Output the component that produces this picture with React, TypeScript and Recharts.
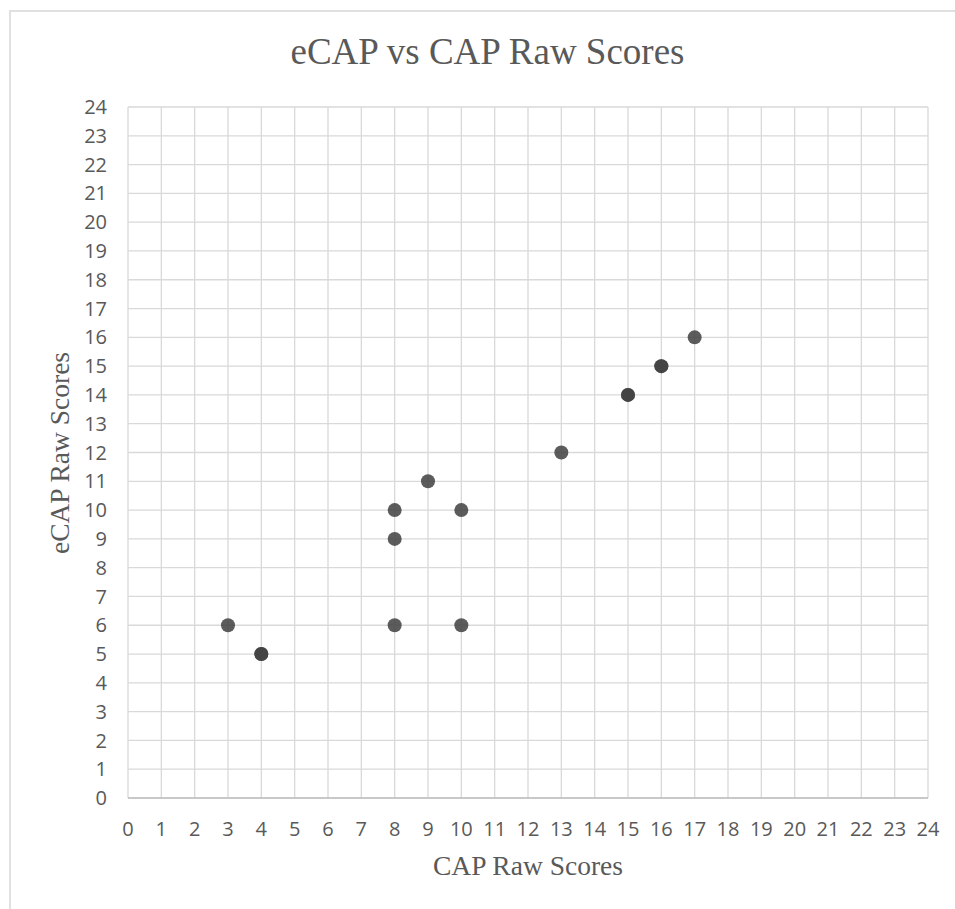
import { ScatterChart, Scatter, XAxis, YAxis, CartesianGrid } from "recharts";

// CAP raw score (x) vs eCAP raw score (y); repeated pairs are listed twice
const capScores = [3, 4, 4, 8, 10, 8, 8, 9, 10, 13, 15, 15, 16, 16, 17];
const ecapScores = [6, 5, 5, 6, 6, 9, 10, 11, 10, 12, 14, 14, 15, 15, 16];

const axisTicks = [
  0, 1, 2, 3, 4, 5, 6, 7, 8, 9, 10, 11, 12, 13, 14, 15, 16, 17, 18, 19, 20, 21, 22, 23, 24,
];

const TITLE = "eCAP vs CAP Raw Scores";
const X_TITLE = "CAP Raw Scores";
const Y_TITLE = "eCAP Raw Scores";

const points = capScores.map((x, i) => ({ x, y: ecapScores[i] }));

const tickStyle = { fontSize: 20, fill: "#595959", fontFamily: "'Open Sans', sans-serif" };
const serif = "'Liberation Serif', 'Times New Roman', serif";

function Dot(props: any) {
  const { cx, cy } = props;
  return <circle cx={cx} cy={cy} r={7} fill="#404040" fillOpacity={0.85} />;
}

export default function App() {
  return (
    <div
      style={{
        position: "fixed",
        left: 0,
        top: 0,
        width: 955,
        height: 909,
        overflow: "hidden",
        background: "#fff",
      }}
    >
      <div
        style={{
          position: "absolute",
          left: 9,
          top: 10,
          width: 980,
          height: 940,
          border: "2px solid #e0e0e0",
        }}
      />
      <div
        style={{
          position: "absolute",
          left: 0,
          width: 975,
          top: 27,
          textAlign: "center",
          fontFamily: serif,
          fontSize: 37,
          color: "#595959",
          lineHeight: "50px",
        }}
      >
        {TITLE}
      </div>
      <div style={{ position: "absolute", left: 0, top: 0 }}>
        <ScatterChart
          width={955}
          height={909}
          margin={{ top: 107, right: 27, bottom: 51, left: 68 }}
        >
          <CartesianGrid stroke="#d9d9d9" strokeWidth={1.3} />
          <XAxis
            type="number"
            dataKey="x"
            domain={[0, 24]}
            ticks={axisTicks}
            interval={0}
            height={60}
            tickSize={0}
            tickMargin={24}
            tickLine={false}
            axisLine={{ stroke: "#bfbfbf", strokeWidth: 1.5 }}
            tick={tickStyle}
          />
          <YAxis
            type="number"
            dataKey="y"
            domain={[0, 24]}
            ticks={axisTicks}
            interval={0}
            width={60}
            tickSize={0}
            tickMargin={21}
            tickLine={false}
            axisLine={false}
            tick={tickStyle}
          />
          <Scatter data={points} shape={<Dot />} isAnimationActive={false} />
        </ScatterChart>
      </div>
      <div
        style={{
          position: "absolute",
          left: 0,
          width: 1056,
          top: 851,
          textAlign: "center",
          fontFamily: serif,
          fontSize: 27.5,
          color: "#595959",
          lineHeight: "30px",
        }}
      >
        {X_TITLE}
      </div>
      <div
        style={{
          position: "absolute",
          left: 60,
          top: 453,
          transform: "translate(-50%, -50%) rotate(-90deg)",
          whiteSpace: "nowrap",
          fontFamily: serif,
          fontSize: 27.5,
          color: "#595959",
          lineHeight: "30px",
        }}
      >
        {Y_TITLE}
      </div>
    </div>
  );
}
